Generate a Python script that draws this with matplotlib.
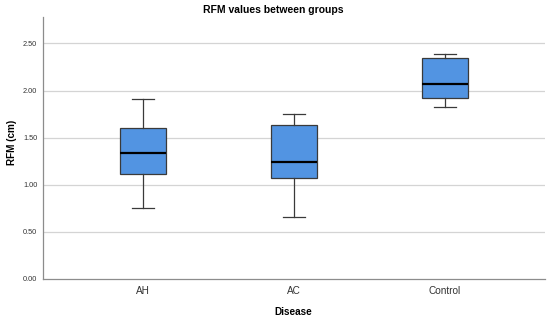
import matplotlib
matplotlib.use('Agg')
import matplotlib.pyplot as plt

plt.rcParams['font.family'] = ['Liberation Sans', 'DejaVu Sans']

# values (cm)
groups = ['AH', 'AC', 'Control']
whislo = [0.75, 0.66, 1.83]
q1 = [1.11, 1.07, 1.92]
med = [1.34, 1.24, 2.07]
q3 = [1.60, 1.63, 2.35]
whishi = [1.91, 1.75, 2.39]
yticks = [0.0, 0.5, 1.0, 1.5, 2.0, 2.5]

stats = []
for i, g in enumerate(groups):
    stats.append(dict(label=g, whislo=whislo[i], q1=q1[i], med=med[i],
                      q3=q3[i], whishi=whishi[i], fliers=[]))

fig = plt.figure(figsize=(5.5, 3.21), dpi=100)
ax = fig.add_axes([0.078, 0.131, 0.913, 0.816])

edge = '#3a3a3a'
ax.bxp(stats, positions=range(len(groups)), widths=0.3, patch_artist=True,
       showfliers=False,
       boxprops=dict(facecolor='#5294e2', edgecolor=edge, linewidth=0.9),
       medianprops=dict(color='black', linewidth=1.6),
       whiskerprops=dict(color=edge, linewidth=0.9),
       capprops=dict(color=edge, linewidth=0.9),
       capwidths=0.15, zorder=3)

ax.set_xlim(-0.662, 2.662)
ax.set_ylim(0, 2.78)
ax.set_yticks(yticks)
ax.set_yticklabels([f'{v:.2f}' for v in yticks], fontsize=5.3, color='#333333')
ax.set_xticks(range(len(groups)))
ax.set_xticklabels(groups, fontsize=7.2, color='#333333')
ax.tick_params(axis='both', length=0)
ax.tick_params(axis='y', pad=4)
ax.tick_params(axis='x', pad=5)

for v in yticks[1:]:
    ax.axhline(v, color='#d4d4d4', linewidth=0.9, zorder=1)

for s in ['top', 'right']:
    ax.spines[s].set_visible(False)
for s in ['left', 'bottom']:
    ax.spines[s].set_color('#8c8c8c')
    ax.spines[s].set_linewidth(0.9)

fig.text(0.496, 0.969, 'RFM values between groups', ha='center', va='center',
         fontsize=7.5, fontweight='bold')
fig.text(0.534, 0.029, 'Disease', ha='center', va='center',
         fontsize=7.2, fontweight='bold')
fig.text(0.021, 0.556, 'RFM (cm)', ha='center', va='center', rotation=90,
         fontsize=7.2, fontweight='bold')

fig.savefig('out.png', dpi=100)
